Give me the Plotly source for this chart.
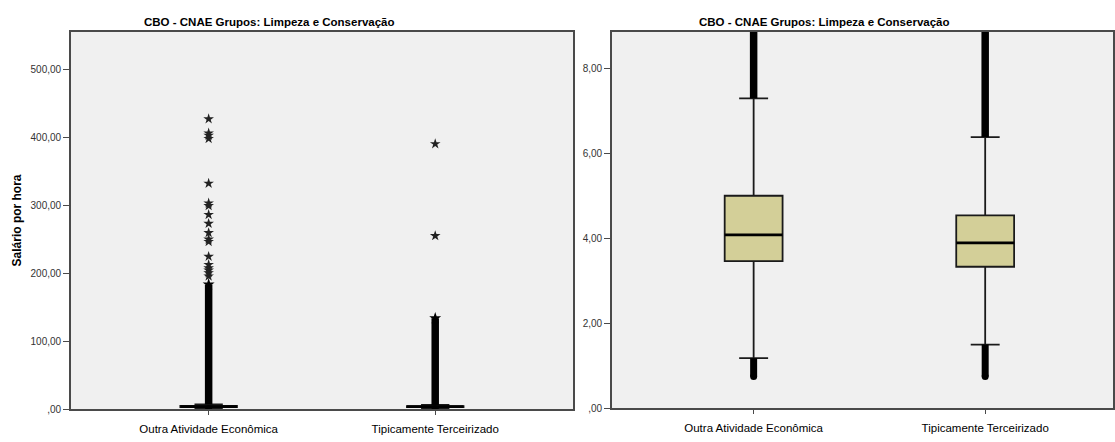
import plotly.graph_objects as go

# Hourly wage summaries by CNAE group (cleaning & maintenance occupations)
categories = ["Outra Atividade Econômica", "Tipicamente Terceirizado"]
q1 = [3.46, 3.33]
median = [4.08, 3.89]
q3 = [5.00, 4.54]
lower_fence = [1.18, 1.50]
upper_fence = [7.29, 6.38]
minimum = [0.75, 0.75]
dense_outlier_top = [183.6, 133.8]   # upper end of the continuous run of outliers
extremes_outra = [426.6, 405.8, 402.4, 397.6, 331.9, 302.9, 299.0, 286.0, 273.0,
                  259.4, 249.8, 246.4, 224.6, 212.6, 207.7, 204.3, 200.5, 195.7]
extremes_terc = [390.0, 255.0]

left_ticks = [0, 100, 200, 300, 400, 500]
left_ticktext = [",00", "100,00", "200,00", "300,00", "400,00", "500,00"]
right_ticks = [0, 2, 4, 6, 8]
right_ticktext = [",00", "2,00", "4,00", "6,00", "8,00"]

subtitle = "CBO - CNAE Grupos: Limpeza e Conservação"

BOX_FILL = "#D3CF98"
PANEL_BG = "#F0F0F0"
AXIS_COLOR = "#4a4a4a"
SANS = "Liberation Sans, Arial, sans-serif"
BOX_W = 0.25

xs = list(range(len(categories)))
extremes = [extremes_outra, extremes_terc]

fig = go.Figure()

for xa, ya in (("x", "y"), ("x2", "y2")):
    # continuous outlier columns above and below the whiskers
    for i in xs:
        fig.add_trace(go.Scatter(
            x=[i, i], y=[upper_fence[i], dense_outlier_top[i]], mode="lines",
            line=dict(color="black", width=7.5), xaxis=xa, yaxis=ya,
            hoverinfo="skip", showlegend=False))
        fig.add_trace(go.Scatter(
            x=[i, i], y=[minimum[i], lower_fence[i]], mode="lines",
            line=dict(color="black", width=7),
            xaxis=xa, yaxis=ya, hoverinfo="skip", showlegend=False))
        fig.add_trace(go.Scatter(
            x=[i], y=[minimum[i]], mode="markers",
            marker=dict(symbol="circle", size=7, color="black", line=dict(width=0)),
            xaxis=xa, yaxis=ya, hoverinfo="skip", showlegend=False))
        fig.add_trace(go.Scatter(
            x=[i] * len(extremes[i]), y=extremes[i], mode="markers",
            marker=dict(symbol="star", size=8, color="#222222", line=dict(width=0)),
            xaxis=xa, yaxis=ya, showlegend=False))
        fig.add_trace(go.Scatter(
            x=[i], y=[dense_outlier_top[i]], mode="markers",
            marker=dict(symbol="star", size=9, color="black", line=dict(width=0)),
            xaxis=xa, yaxis=ya, hoverinfo="skip", showlegend=False))

    fig.add_trace(go.Box(
        x=xs, q1=q1, median=median, q3=q3,
        lowerfence=lower_fence, upperfence=upper_fence,
        width=BOX_W, whiskerwidth=0.5, fillcolor=BOX_FILL,
        line=dict(color="#1a1a1a", width=1.8), boxpoints=False,
        xaxis=xa, yaxis=ya, showlegend=False))

    # heavier median bar
    for i in xs:
        fig.add_trace(go.Scatter(
            x=[i - BOX_W / 2, i + BOX_W / 2], y=[median[i], median[i]],
            mode="lines", line=dict(color="black", width=2.8),
            xaxis=xa, yaxis=ya, hoverinfo="skip", showlegend=False))

common_x = dict(
    tickvals=xs, ticktext=categories, showgrid=False, zeroline=False,
    showline=True, linecolor=AXIS_COLOR, linewidth=1.5, mirror=True,
    ticks="outside", ticklen=4, tickcolor=AXIS_COLOR, ticklabelstandoff=4,
    tickfont=dict(family=SANS, size=11.5, color="black"),
)
common_y = dict(
    showgrid=False, zeroline=False, showline=True, linecolor=AXIS_COLOR,
    linewidth=1.5, mirror=True, ticks="outside", ticklen=6,
    tickcolor=AXIS_COLOR, tickfont=dict(family=SANS, size=10, color="#333333"),
)

fig.update_layout(
    width=1115, height=442,
    margin=dict(l=0, r=0, t=0, b=0),
    paper_bgcolor="white", plot_bgcolor=PANEL_BG,
    boxmode="overlay",
    xaxis=dict(domain=[0.0637, 0.5148], range=[-0.608, 1.608], **common_x),
    yaxis=dict(domain=[0.0611, 0.9276], range=[0, 555],
               tickvals=left_ticks, ticktext=left_ticktext,
               title=dict(text="<b>Salário por hora</b>", standoff=6,
                          font=dict(family=SANS, size=12, color="black")),
               **common_y),
    xaxis2=dict(domain=[0.5498, 1.0], range=[-0.612, 1.552], anchor="y2", **common_x),
    yaxis2=dict(domain=[0.0634, 0.9276], range=[0, 8.86], anchor="x2",
                tickvals=right_ticks, ticktext=right_ticktext, **common_y),
    annotations=[
        dict(text="<b>" + subtitle + "</b>", x=270 / 1115, y=1 - 22 / 442,
             xref="paper", yref="paper", showarrow=False, xanchor="center",
             yanchor="middle", font=dict(family=SANS, size=11.5, color="black")),
        dict(text="<b>" + subtitle + "</b>", x=826 / 1115, y=1 - 22 / 442,
             xref="paper", yref="paper", showarrow=False, xanchor="center",
             yanchor="middle", font=dict(family=SANS, size=11.5, color="black")),
    ],
)

fig.write_html("out.html")
